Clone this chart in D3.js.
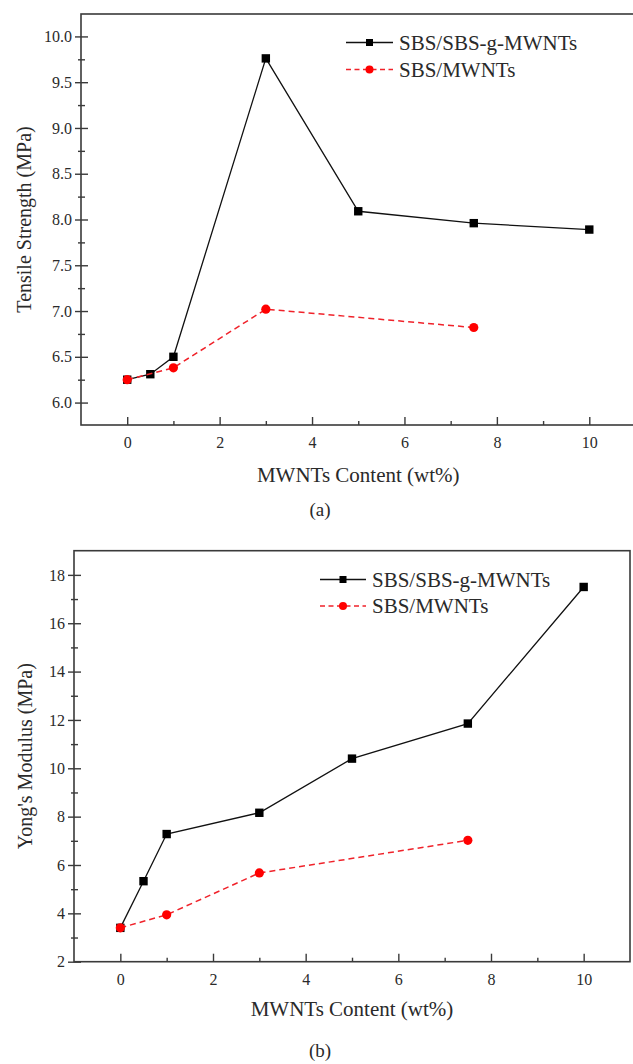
<!DOCTYPE html>
<html>
<head>
<meta charset="utf-8">
<script src="https://cdn.jsdelivr.net/npm/d3@7"></script>
<style>
  html, body { margin: 0; padding: 0; background: #fff; }
  svg { display: block; }
</style>
</head>
<body>
<svg id="fig" width="633" height="1064"></svg>
<script>
// MWNTs content (wt%) for each series
const contentGrafted = [0, 0.5, 1, 3, 5, 7.5, 10];
const contentPlain = [0, 1, 3, 7.5];

// (a) tensile strength, MPa
const tensileGrafted = [6.25, 6.31, 6.50, 9.76, 8.09, 7.96, 7.89];
const tensilePlain = [6.25, 6.38, 7.02, 6.82];

// (b) Young's modulus, MPa
const modulusGrafted = [3.40, 5.33, 7.28, 8.16, 10.40, 11.85, 17.50];
const modulusPlain = [3.40, 3.94, 5.67, 7.02];

const seriesNames = ["SBS/SBS-g-MWNTs", "SBS/MWNTs"];
const xTicks = [0, 2, 4, 6, 8, 10];
const xMinorTicks = [1, 3, 5, 7, 9];
const tensileTicks = [6.0, 6.5, 7.0, 7.5, 8.0, 8.5, 9.0, 9.5, 10.0];
const tensileMinorTicks = [6.25, 6.75, 7.25, 7.75, 8.25, 8.75, 9.25, 9.75];
const modulusTicks = [2, 4, 6, 8, 10, 12, 14, 16, 18];
const modulusMinorTicks = [3, 5, 7, 9, 11, 13, 15, 17];

const FONT = "'Liberation Serif', 'Times New Roman', 'DejaVu Serif', serif";
const TEXT = "#2a2a2a";
const svg = d3.select("#fig");

function panel(cfg) {
  const g = svg.append("g");
  const x = d3.scaleLinear().domain([-1, 11]).range([cfg.left, cfg.right]);
  const y = d3.scaleLinear().domain(cfg.yDomain).range([cfg.bottom, cfg.top]);
  const axisColor = "#3a3a3a";

  // frame
  g.append("rect")
    .attr("x", cfg.left).attr("y", cfg.top)
    .attr("width", cfg.right - cfg.left).attr("height", cfg.bottom - cfg.top)
    .attr("fill", "none").attr("stroke", axisColor).attr("stroke-width", 1.6);

  // x axis: ticks pointing into the plot
  const xAxis = g.append("g").attr("transform", `translate(0,${cfg.bottom})`)
    .call(d3.axisBottom(x).tickValues(xTicks).tickSizeInner(-8).tickSizeOuter(0).tickFormat(d3.format("d")));
  xAxis.select(".domain").remove();
  xAxis.selectAll("line").attr("stroke", axisColor).attr("stroke-width", 1.4);
  xAxis.selectAll("text")
    .style("font-family", FONT).style("font-size", "16px").style("fill", TEXT)
    .attr("dy", "0.71em").attr("y", 12);
  g.append("g").attr("transform", `translate(0,${cfg.bottom})`)
    .call(d3.axisBottom(x).tickValues(xMinorTicks).tickSizeInner(-4).tickSizeOuter(0).tickFormat(""))
    .call(a => a.select(".domain").remove())
    .selectAll("line").attr("stroke", axisColor).attr("stroke-width", 1.4);

  // y axis: ticks crossing the frame line
  const yAxis = g.append("g").attr("transform", `translate(${cfg.left},0)`)
    .call(d3.axisLeft(y).tickValues(cfg.yTicks).tickSizeInner(6).tickSizeOuter(0).tickFormat(d3.format(cfg.yFormat)));
  yAxis.select(".domain").remove();
  yAxis.selectAll("line").attr("x2", 7).attr("x1", -6).attr("stroke", axisColor).attr("stroke-width", 1.4);
  yAxis.selectAll("text")
    .style("font-family", FONT).style("font-size", "16px").style("fill", TEXT)
    .attr("x", -cfg.labelGap);
  const yMinor = g.append("g").attr("transform", `translate(${cfg.left},0)`)
    .call(d3.axisLeft(y).tickValues(cfg.yMinor).tickSizeOuter(0).tickFormat(""));
  yMinor.select(".domain").remove();
  yMinor.selectAll("line").attr("x1", -3).attr("x2", 4).attr("stroke", axisColor).attr("stroke-width", 1.4);

  // axis titles and panel tag
  const label = (sel, size) => sel.style("font-family", FONT).style("font-size", size).style("fill", TEXT);
  g.append("text")
    .attr("x", (cfg.left + cfg.right) / 2).attr("y", cfg.xTitleY)
    .attr("text-anchor", "middle").call(label, "21px")
    .text("MWNTs Content (wt%)");
  g.append("text")
    .attr("transform", `translate(${cfg.yTitleX},${(cfg.top + cfg.bottom) / 2}) rotate(-90)`)
    .attr("text-anchor", "middle").call(label, "20px")
    .text(cfg.yTitle);
  g.append("text")
    .attr("x", 320).attr("y", cfg.tagY)
    .attr("text-anchor", "middle").call(label, "19px")
    .text(cfg.tag);

  const line = d3.line().x(d => x(d[0])).y(d => y(d[1]));
  const plain = contentPlain.map((c, i) => [c, cfg.plain[i]]);
  const grafted = contentGrafted.map((c, i) => [c, cfg.grafted[i]]);

  // SBS/SBS-g-MWNTs (solid black, squares)
  g.append("path").datum(grafted).attr("d", line)
    .attr("fill", "none").attr("stroke", "#111").attr("stroke-width", 1.3);
  g.selectAll(".sq").data(grafted).enter().append("rect")
    .attr("x", d => x(d[0]) - 4.2).attr("y", d => y(d[1]) - 4.2)
    .attr("width", 8.4).attr("height", 8.4).attr("fill", "#000");

  // SBS/MWNTs (dashed red, circles)
  g.append("path").datum(plain).attr("d", line)
    .attr("fill", "none").attr("stroke", "#f0222a").attr("stroke-width", 1.5)
    .attr("stroke-dasharray", "6,4");
  g.selectAll(".ci").data(plain).enter().append("circle")
    .attr("cx", d => x(d[0])).attr("cy", d => y(d[1])).attr("r", 4.6)
    .attr("fill", "#ff0000");

  // legend
  const lg = g.append("g");
  const L = cfg.legend;
  lg.append("line").attr("x1", L.x0).attr("x2", L.x1).attr("y1", L.y).attr("y2", L.y)
    .attr("stroke", "#111").attr("stroke-width", 1.3);
  lg.append("rect").attr("x", (L.x0 + L.x1) / 2 - 3.5).attr("y", L.y - 3.5)
    .attr("width", 7).attr("height", 7).attr("fill", "#000");
  lg.append("line").attr("x1", L.x0).attr("x2", L.x1).attr("y1", L.y + L.dy).attr("y2", L.y + L.dy)
    .attr("stroke", "#f0222a").attr("stroke-width", 1.3).attr("stroke-dasharray", "5,3.5");
  lg.append("circle").attr("cx", (L.x0 + L.x1) / 2).attr("cy", L.y + L.dy).attr("r", 4)
    .attr("fill", "#ff0000");
  lg.selectAll("text").data(seriesNames).enter().append("text")
    .attr("x", L.x1 + 6).attr("y", (d, i) => L.y + i * L.dy)
    .attr("dy", "0.35em").call(label, "21px")
    .text(d => d);
}

panel({
  left: 81, right: 635.5, top: 14, bottom: 425,
  yDomain: [5.755, 10.245], yTicks: tensileTicks, yMinor: tensileMinorTicks, yFormat: ".1f",
  labelGap: 9, yTitle: "Tensile Strength (MPa)", yTitleX: 31, xTitleY: 482,
  tag: "(a)", tagY: 516,
  grafted: tensileGrafted, plain: tensilePlain,
  legend: { x0: 346, x1: 393, y: 42.5, dy: 27 }
});

panel({
  left: 74, right: 630, top: 550.7, bottom: 961.7,
  yDomain: [2, 19], yTicks: modulusTicks, yMinor: modulusMinorTicks, yFormat: "d",
  labelGap: 9, yTitle: "Yong's Modulus (MPa)", yTitleX: 32, xTitleY: 1016,
  tag: "(b)", tagY: 1057,
  grafted: modulusGrafted, plain: modulusPlain,
  legend: { x0: 320, x1: 366, y: 579.5, dy: 26.5 }
});
</script>
</body>
</html>
